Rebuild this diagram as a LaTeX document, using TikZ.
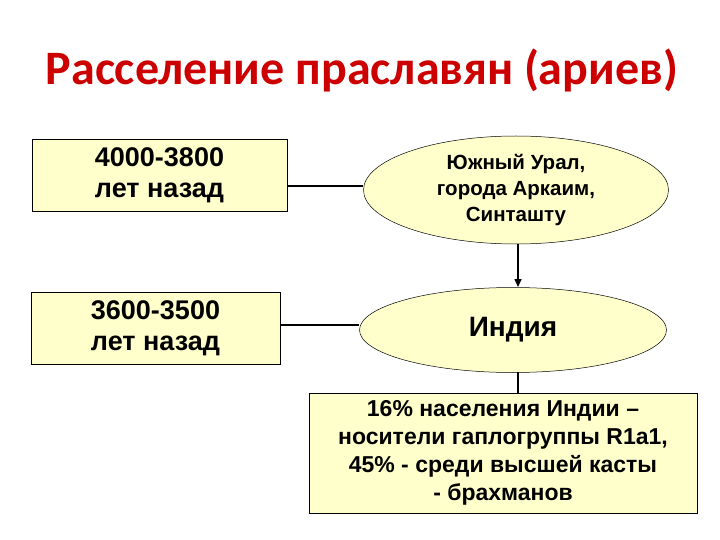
\documentclass[tikz,border=0pt]{standalone}
\usepackage{fontspec}
\setmainfont{Liberation Sans}
\newfontfamily\titlefont{Carlito}
\usetikzlibrary{shapes.geometric,arrows.meta}
\definecolor{fillc}{HTML}{FFFFCC}
\definecolor{titlec}{HTML}{CC0000}
\begin{document}
\begin{tikzpicture}[x=1pt,y=-1pt,
  boxs/.style={draw,fill=fillc,line width=0.8pt,align=center,font=\bfseries\fontsize{27}{31}\selectfont},
  ell/.style={ellipse,draw,fill=fillc,line width=0.5pt,align=center,inner sep=0pt},
  con/.style={line width=1.6pt}]
\useasboundingbox (0,0) rectangle (720,540);
\node[font=\titlefont\bfseries\fontsize{48}{52}\selectfont,text=titlec] (t) at (362,70) {Расселение праславян (ариев)};
\node[boxs,minimum width=255,minimum height=72] (b1) at (159.5,175) {4000-3800\\лет назад};
\node[boxs,minimum width=249,minimum height=72] (b2) at (155.5,328) {3600-3500\\ лет назад};
\node[ell,minimum width=305,minimum height=108,font=\bfseries\fontsize{20.5}{26}\selectfont] (e1) at (516,190) {Южный Урал,\\города Аркаим,\\ Синташту};
\node[ell,minimum width=307,minimum height=85,font=\bfseries\fontsize{28}{32}\selectfont] (e2) at (513,330) {Индия};
\node[draw,fill=fillc,line width=0.8pt,align=center,minimum width=388,minimum height=120,inner sep=0pt,font=\bfseries\fontsize{23}{28}\selectfont] (b3) at (503,453) {16\% населения Индии --\\носители гаплогруппы R1a1,\\ 45\% - среди высшей касты\\ - брахманов};
\draw[con] (b1.east |- 0,186) -- (e1.west |- 0,186);
\draw[con] (b2.east |- 0,325) -- (e2.west |- 0,325);
\draw[con,-{Triangle[length=8pt,width=7pt]}] (518,244) -- (518,287);
\draw[con] (518,372) -- (518,393);
\end{tikzpicture}
\end{document}
